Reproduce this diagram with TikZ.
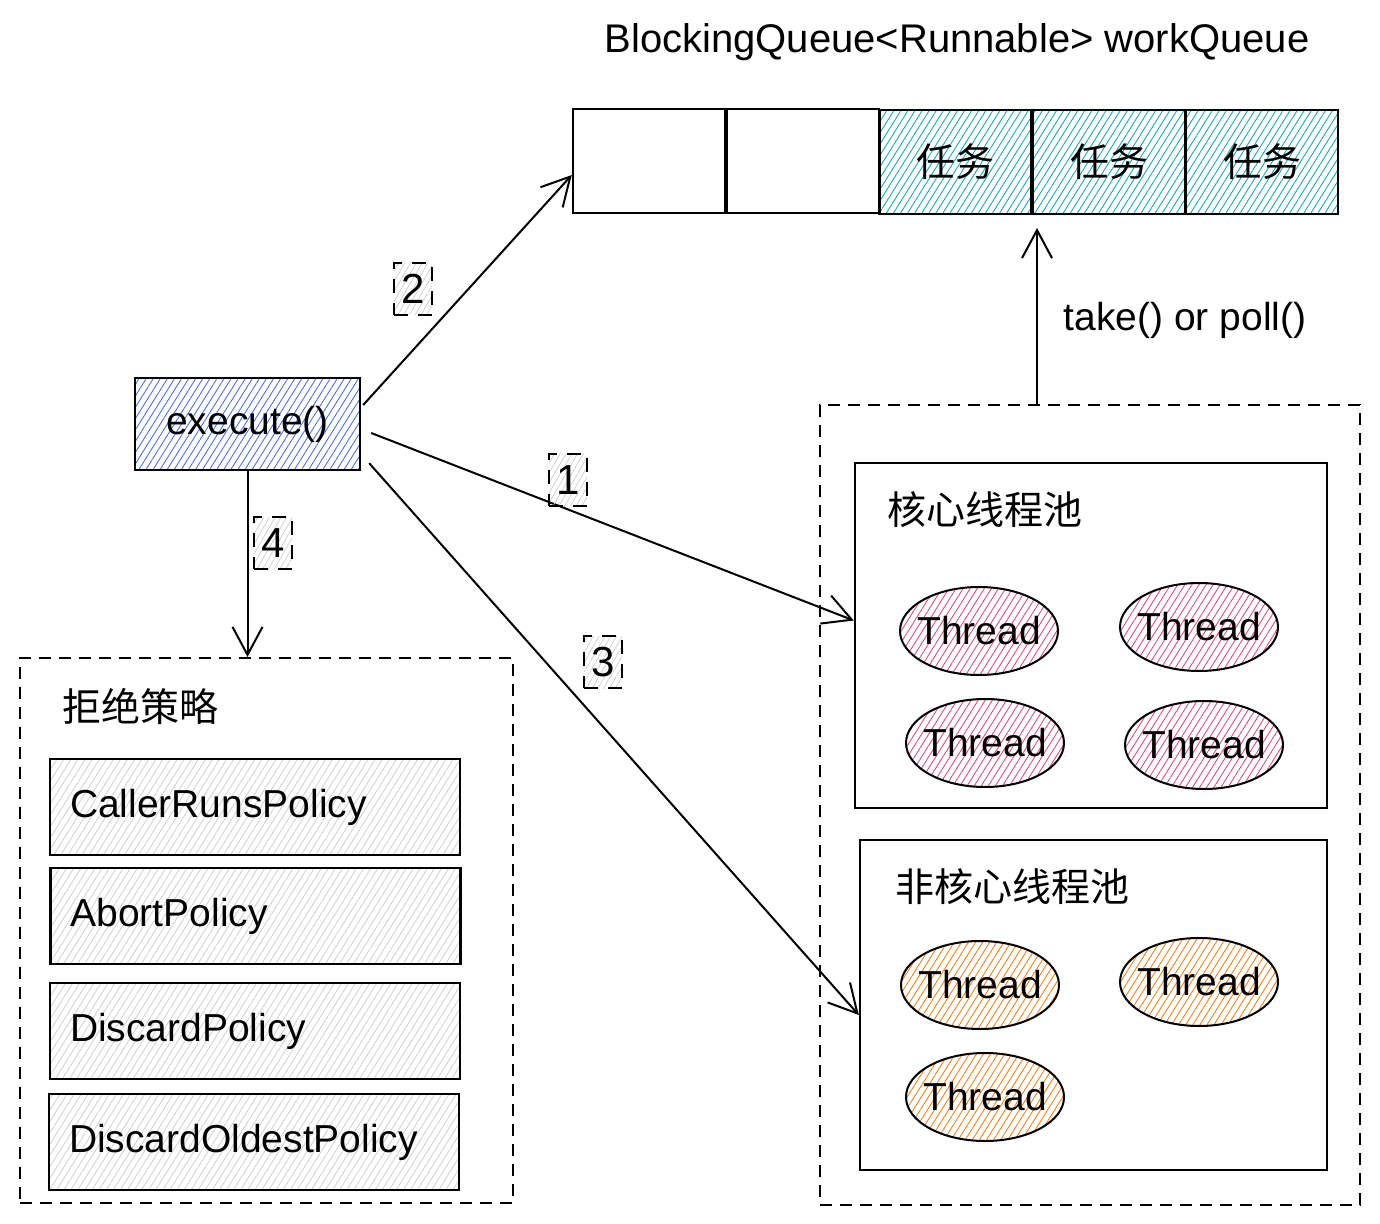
\documentclass[tikz,border=0pt]{standalone}
\usepackage{fontspec}
\setmainfont{Liberation Sans}
\newfontfamily\cjk{Noto Sans CJK SC}
\usetikzlibrary{shapes.geometric,patterns.meta,arrows.meta}

\definecolor{taskcyan}{HTML}{15AABF}
\definecolor{execblue}{HTML}{4C6EF5}
\definecolor{corepink}{HTML}{E64980}
\definecolor{extraorange}{HTML}{FD7E14}
\definecolor{policygray}{HTML}{CED4DA}

\begin{document}
\begin{tikzpicture}[
            x=0.5pt, y=-0.5pt,
            font=\fontsize{19.5}{24}\selectfont,
            hatch/.style={pattern={Lines[angle=58,distance=3pt,line width=0.45pt]}},
            cell/.style={draw, line width=1.2pt, minimum width=76pt, minimum height=52pt, inner sep=0pt},
            taskcell/.style={cell, hatch, pattern color=taskcyan, font=\fontsize{19.5}{24}\selectfont\cjk},
            execbox/.style={draw, line width=1.2pt, minimum width=112.5pt, minimum height=46pt, inner sep=0pt, hatch, pattern color=execblue},
            container/.style={draw, line width=1pt, dash pattern=on 6pt off 4pt, inner sep=0pt},
            poolbox/.style={draw, line width=1.2pt, inner sep=0pt},
            thread/.style={ellipse, draw, line width=1pt, minimum width=79pt, minimum height=44pt, inner sep=0pt, hatch},
            corethread/.style={thread, pattern color=corepink},
            extrathread/.style={thread, pattern color=extraorange},
            policy/.style={draw, line width=1.2pt, minimum height=48pt, text width=185pt, align=left, inner xsep=10pt, hatch, pattern color=policygray},
            grouplabel/.style={anchor=west, inner sep=0pt, font=\fontsize{19.5}{24}\selectfont\cjk},
            numtag/.style={draw, line width=1pt, dash pattern=on 7pt off 5pt, minimum width=19pt, minimum height=26pt, inner sep=0pt, pattern={Lines[angle=60,distance=2.5pt,line width=0.3pt]}, pattern color=gray!45, font=\fontsize{21}{24}\selectfont},
            arrow/.style={-{Straight Barb[length=14pt,width=15pt,line width=1pt]}, line width=1pt}
        ]
        \useasboundingbox (0,0) rectangle (1380,1224);

        % Queue
        \node[font=\fontsize{20}{24}\selectfont] (title) at (957,42) {BlockingQueue<Runnable> workQueue};
        \node[cell] (q1) at (649,161) {};
        \node[cell] (q2) at (803,161) {};
        \node[taskcell] (q3) at (955.5,162) {任务};
        \node[taskcell] (q4) at (1109,162) {任务};
        \node[taskcell] (q5) at (1262,162) {任务};

        % Entry
        \node[execbox] (execute) at (247.5,424) {execute()};

        % Thread pools
        \node[container, minimum width=270pt, minimum height=400pt] (pool) at (1090,805) {};
        \node[poolbox, minimum width=236pt, minimum height=172.5pt] (core) at (1091,635.5) {};
        \node[grouplabel] (corelabel) at (887,510) {核心线程池};
        \node[corethread] (c1) at (979,631) {\makebox[0pt]{Thread}};
        \node[corethread] (c2) at (1199,627) {\makebox[0pt]{Thread}};
        \node[corethread] (c3) at (985,743) {\makebox[0pt]{Thread}};
        \node[corethread] (c4) at (1204,745) {\makebox[0pt]{Thread}};

        \node[poolbox, minimum width=233.5pt, minimum height=165pt] (extra) at (1093.5,1005) {};
        \node[grouplabel] (extralabel) at (895,887) {非核心线程池};
        \node[extrathread] (e1) at (980,985) {\makebox[0pt]{Thread}};
        \node[extrathread] (e2) at (1199,982) {\makebox[0pt]{Thread}};
        \node[extrathread] (e3) at (985,1097) {\makebox[0pt]{Thread}};

        % Rejection policies
        \node[container, minimum width=246.5pt, minimum height=272.5pt] (reject) at (266.5,930.5) {};
        \node[grouplabel] (rejectlabel) at (62,706) {拒绝策略};
        \node[policy] (p1) at (255,807) {CallerRunsPolicy};
        \node[policy] (p2) at (255.5,916) {AbortPolicy};
        \node[policy] (p3) at (255,1031) {DiscardPolicy};
        \node[policy] (p4) at (254,1142) {DiscardOldestPolicy};

        % Edges
        \draw[arrow] ([xshift=1pt,yshift=9.5pt]execute.east) -- ([yshift=-7pt]q1.west);
        \draw[arrow] ([xshift=5pt,yshift=-4.5pt]execute.east) -- ([yshift=7.5pt]core.west);
        \draw[arrow] ([xshift=4pt,yshift=4pt]execute.south east) -- ([yshift=-5pt]extra.west);
        \draw[arrow] (execute.south) -- (execute.south |- reject.north);
        \coordinate (tk) at (1037,228);
        \draw[arrow] (tk |- pool.north) -- (tk);
        \node (takelabel) at (1185,320) {take() or poll()};

        % Step numbers
        \node[numtag] (s2) at (413,289) {2};
        \node[numtag] (s1) at (568,480) {1};
        \node[numtag] (s3) at (603,662) {3};
        \node[numtag] (s4) at (273,543) {4};

    \end{tikzpicture}
\end{document}
